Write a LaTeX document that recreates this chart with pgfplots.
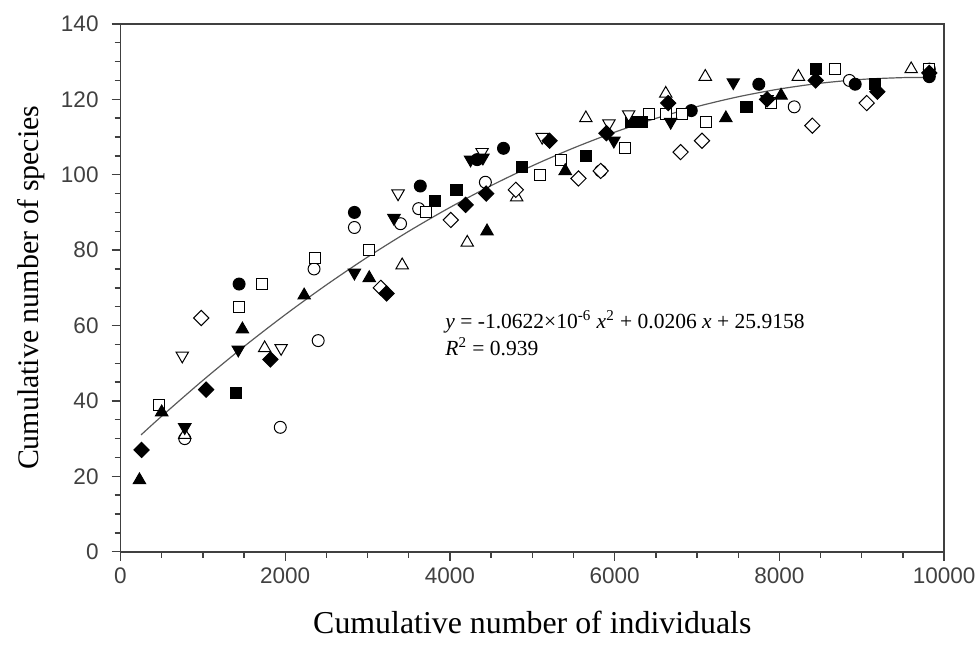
\documentclass[border=0pt]{standalone}
\usepackage{fontspec}
\setmainfont{Liberation Serif}
\newfontfamily\arial{Liberation Sans}
\usepackage{pgfplots}
\pgfplotsset{compat=1.18}

\begin{document}
\begin{tikzpicture}
\begin{axis}[
  scale only axis,
  width=413.5pt, height=265pt,
  xmin=0, xmax=10000, ymin=0, ymax=140,
  xtick={0,2000,...,10000}, ytick={0,20,...,140},
  scaled ticks=false,
  minor x tick num=3, minor y tick num=3,
  tick pos=left, tick align=outside,
  major tick length=4.5pt, minor tick length=3pt,
  axis line style={line width=0.8pt, black!75},
  tick style={line width=0.7pt, black!75},
  /pgf/number format/assume math mode=true,
  /pgf/number format/1000 sep={},
  ticklabel style={font=\arial\fontsize{11.3}{13}\selectfont, black!75},
  yticklabel style={xshift=-3pt},
  xlabel={Cumulative number of individuals},
  ylabel={Cumulative number of species},
  xlabel style={font=\fontsize{16}{18}\selectfont, yshift=-7pt},
  ylabel style={font=\fontsize{15}{17}\selectfont, yshift=1pt},
  every axis plot/.append style={only marks, mark size=3pt, line width=0.5pt},
  clip=false,
]
\coordinate (o) at (rel axis cs:0,0);
% fitted curve
\addplot[sharp plot, no marks, draw=black!65, line width=0.6pt, smooth] coordinates {
(250,31.00)(500,35.95)(1000,45.45)(1500,54.43)(2000,62.87)(2500,70.78)(3000,78.16)
(3500,85.00)(4000,91.32)(4500,97.11)(5000,102.36)(5500,107.08)(6000,111.28)
(6500,114.94)(7000,118.07)(7500,120.67)(8000,122.73)(8500,124.27)(9000,125.28)
(9500,125.75)(9800,125.78)};
% open circles
\addplot[mark=*, mark options={fill=white, draw=black}] coordinates {
(780,30)(1940,33)(2400,56)(2350,75)(2840,86)(3400,87)(3620,91)(4430,98)
(5830,101)(8180,118)(8850,125)(9820,128)};
% filled circles
\addplot[mark=*, mark options={fill=black, draw=black}] coordinates {
(1440,71)(2840,90)(3640,97)(4330,104)(4650,107)(6930,117)(7750,124)(8920,124)(9820,126)};
% open squares
\addplot[mark=square*, mark size=2.8pt, mark options={fill=white, draw=black}] coordinates {
(470,39)(1440,65)(1720,71)(2360,78)(3020,80)(3710,90)(5090,100)(5350,104)
(6130,107)(6420,116)(6620,116)(6820,116)(7110,114)(7900,119)(8670,128)(9820,128)};
% filled squares
\addplot[mark=square*, mark size=2.8pt, mark options={fill=black, draw=black}] coordinates {
(1400,42)(3820,93)(4080,96)(4870,102)(5650,105)(6200,114)(6330,114)(7600,118)
(8440,128)(9160,124)};
% open triangles
\addplot[mark=triangle*, mark size=3.6pt, mark options={fill=white, draw=black}] coordinates {
(780,31)(1750,54)(3420,76)(4210,82)(4810,94)(5650,115)(6620,121.5)(7100,126)
(8230,126)(9600,128)};
% filled triangles
\addplot[mark=triangle*, mark size=3.6pt, mark options={fill=black, draw=black}] coordinates {
(230,19)(500,37)(1480,59)(2230,68)(3020,72.6)(4450,85)(5400,101)(7350,115)(8020,121)};
% open inverted triangles
\addplot[mark=triangle*, mark size=3.6pt, mark options={fill=white, draw=black, rotate=180}] coordinates {
(750,52)(1950,54)(3370,95)(4390,106)(5120,110)(5930,113.6)(6170,116)};
% filled inverted triangles
\addplot[mark=triangle*, mark size=3.6pt, mark options={fill=black, draw=black, rotate=180}] coordinates {
(780,33)(1430,53.6)(2840,74)(3320,88.5)(4250,104)(4400,104.5)(5990,109)(6680,114)
(7440,124.5)(7850,120)};
% open diamonds
\addplot[mark=square*, mark size=2.7pt, mark options={fill=white, draw=black, rotate=45}] coordinates {
(980,62)(3160,70)(4010,88)(4800,96)(5560,99)(5830,101)(6800,106)(7060,109)(8400,113)(9060,119)};
% filled diamonds
\addplot[mark=square*, mark size=2.7pt, mark options={fill=black, draw=black, rotate=45}] coordinates {
(255,27)(1040,43)(1820,51)(3230,68.5)(4190,92)(4440,95)(5210,109)(5900,111)
(6650,119)(7850,120)(8440,125)(9190,122)(9820,127)};
\node[anchor=west, font=\fontsize{10.8}{12.5}\selectfont, align=left, inner sep=0pt]
  at (axis cs:3940,58) {\textit{y} = -1.0622×10\textsuperscript{-6} \textit{x}\textsuperscript{2} + 0.0206 \textit{x} + 25.9158\\[1pt]
  \textit{R}\textsuperscript{2} = 0.939};
\end{axis}
\pgfresetboundingbox
\path ([xshift=-60.5pt,yshift=-46.5pt]o) rectangle ++(491pt,323.5pt);
\end{tikzpicture}
\end{document}
